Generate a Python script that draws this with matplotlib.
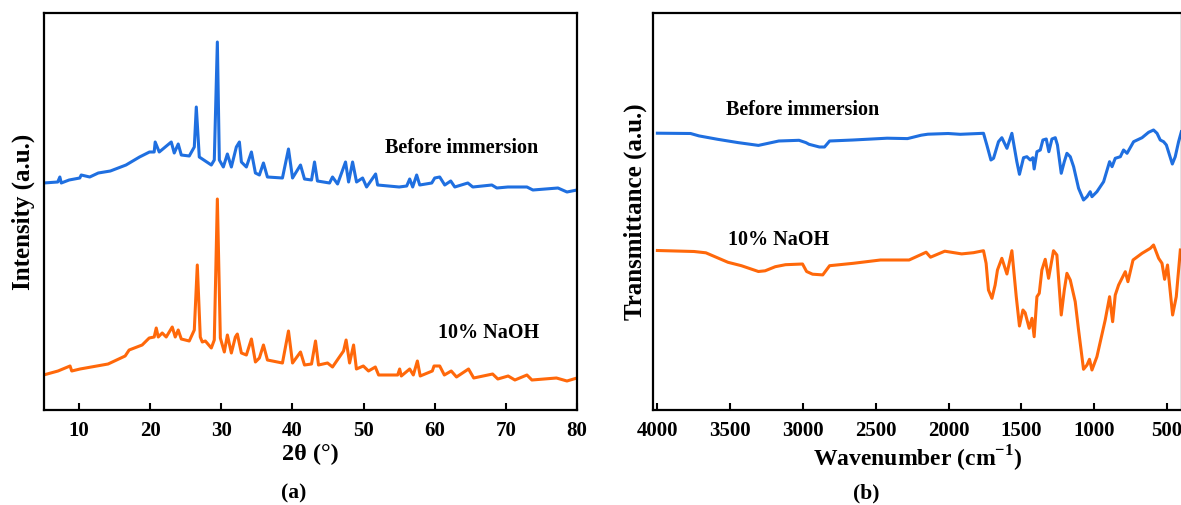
import numpy as np
import matplotlib
matplotlib.use('Agg')
import matplotlib.pyplot as plt

plt.rcParams['font.family'] = ['Liberation Serif', 'DejaVu Serif']
plt.rcParams['font.weight'] = 'bold'
plt.rcParams['mathtext.fontset'] = 'custom'
plt.rcParams['mathtext.rm'] = 'Liberation Serif:bold'
plt.rcParams['mathtext.bf'] = 'Liberation Serif:bold'

BLUE = '#1f6fe0'
ORANGE = '#ff680a'

# ---- XRD (a) ----
xrd_before_2t = [5.0, 7.0, 7.3, 7.5, 8.6, 10.1, 10.3, 11.5, 12.7, 14.4, 16.6, 18.5, 19.9,
                 20.56, 20.70, 21.27, 22.96, 23.38, 23.94, 24.37, 25.49, 26.20, 26.48, 26.90,
                 28.59, 29.01, 29.44, 29.72, 30.28, 30.85, 31.41, 32.11, 32.54, 32.82, 33.52,
                 34.23, 34.79, 35.35, 35.92, 36.48, 38.59, 39.44, 40.01, 41.13, 41.69, 42.68,
                 43.10, 43.51, 45.21, 45.63, 46.34, 47.46, 47.89, 48.45, 49.01, 49.86, 50.42,
                 51.69, 51.97, 55.0, 56.06, 56.48, 56.90, 57.46, 57.89, 59.58, 60.0, 60.70,
                 61.41, 62.25, 62.82, 64.65, 65.35, 68.03, 68.73, 70.28, 72.96, 73.80, 77.32,
                 78.59, 80.0]
xrd_before_int = [224, 225, 230, 224, 227, 229, 232, 230, 234, 236, 242, 250, 255,
                  255, 265, 255, 265, 254, 263, 252, 251, 260, 300, 250,
                  242, 247, 365, 247, 240, 253, 240, 260, 265, 245, 240,
                  255, 234, 232, 244, 230, 229, 258, 229, 242, 228, 227,
                  245, 226, 224, 230, 223, 245, 225, 245, 225, 229, 220,
                  233, 222, 220, 221, 228, 220, 232, 222, 224, 229, 230,
                  222, 226, 220, 224, 220, 222, 219, 220, 220, 217, 219,
                  215, 217]

xrd_naoh_2t = [5.0, 7.04, 8.73, 8.97, 10.14, 14.08, 16.48, 17.04, 18.87, 19.86, 20.56,
               20.85, 21.13, 21.69, 22.25, 23.10, 23.52, 23.94, 24.37, 25.49, 26.20, 26.62,
               27.04, 27.32, 27.75, 28.59, 29.01, 29.44, 29.86, 30.42, 30.85, 31.41, 31.97,
               32.25, 32.82, 33.52, 34.23, 34.79, 35.35, 35.92, 36.48, 38.59, 39.44, 40.01,
               41.13, 41.69, 42.68, 43.24, 43.66, 44.93, 45.63, 47.18, 47.54, 48.03, 48.59,
               48.99, 49.96, 50.69, 51.65, 52.11, 54.79, 55.07, 55.30, 56.48, 56.99, 57.56,
               57.96, 59.66, 59.90, 60.70, 61.35, 62.32, 63.06, 64.75, 65.48, 68.14, 68.87,
               70.32, 71.27, 72.96, 73.66, 77.11, 78.59, 80.0]
xrd_naoh_int = [32, 36, 41, 36, 38, 43, 51, 57, 62, 69, 70,
                79, 70, 74, 70, 80, 70, 77, 68, 66, 77, 142,
                70, 65, 66, 59, 67, 208, 69, 55, 72, 54, 70,
                73, 54, 52, 68, 45, 49, 62, 47, 44, 76, 44,
                55, 42, 43, 66, 42, 44, 40, 56, 67, 44, 62,
                38, 41, 36, 40, 32, 32, 38, 31, 38, 32, 46,
                31, 36, 41, 41, 32, 36, 30, 38, 29, 33, 28,
                31, 27, 32, 27, 29, 26, 29]

# ---- FTIR (b) ----
ftir_before_wn = [4000, 3772, 3714, 3586, 3446, 3306, 3166, 3027, 2980, 2958, 2887, 2852,
                  2817, 2656, 2422, 2282, 2188, 2142, 2003, 1920, 1760, 1737, 1709, 1691,
                  1657, 1634, 1599, 1565, 1531, 1513, 1485, 1462, 1439, 1421, 1412, 1393,
                  1370, 1352, 1329, 1311, 1290, 1267, 1252, 1226, 1205, 1187, 1164, 1141,
                  1107, 1073, 1049, 1027, 1015, 981, 935, 894, 877, 855, 820, 798, 774,
                  729, 671, 626, 592, 568, 546, 523, 504, 463, 443, 420, 401]
ftir_before_t = [276.8, 276.5, 274.1, 270.7, 267.4, 264.6, 269, 269.7, 267.4, 265.7, 263, 263,
                 269, 270, 271.8, 271.4, 274.8, 275.8, 276.5, 275.7, 276.7, 265, 250, 251.7,
                 268.3, 272.3, 261.7, 276.7, 248.3, 235.7, 252.3, 253.3, 250, 252.3, 241, 258.3,
                 260, 270, 271, 258.3, 271, 272.3, 265, 236.7, 248.3, 256.7, 253.3, 243.3,
                 221.7, 210, 213.3, 218.3, 213.3, 218.3, 228.3, 248.3, 243.3, 251.7, 253.3, 260, 256.7,
                 268.3, 272.3, 277.7, 280, 276.7, 270, 268.3, 265, 246, 253.3, 268.3, 278.3]

ftir_naoh_wn = [4000, 3748, 3667, 3515, 3423, 3306, 3260, 3190, 3120, 3003, 2975, 2934,
                2864, 2817, 2654, 2468, 2271, 2188, 2154, 2124, 2026, 1910, 1829, 1760,
                1742, 1726, 1702, 1680, 1664, 1634, 1599, 1565, 1535, 1513, 1489, 1474,
                1446, 1427, 1412, 1393, 1377, 1359, 1336, 1313, 1279, 1256, 1226, 1205,
                1187, 1164, 1130, 1107, 1073, 1049, 1032, 1015, 981, 924, 894, 873, 855,
                832, 786, 768, 733, 671, 614, 592, 557, 534, 516, 496, 461, 436, 408]
ftir_naoh_t = [159.5, 158.5, 157.2, 147.7, 144.3, 138.5, 139.2, 143.3, 145.3, 146, 138.5, 135.8,
               135.1, 144.3, 146.7, 150, 150, 155.5, 157.8, 152.8, 158.8, 156.1, 157.3, 159.3,
               146.7, 120, 111.7, 125, 140, 151.7, 136, 159.3, 113.3, 84, 100, 97.3,
               81.7, 91.7, 73.3, 113.3, 116.7, 140, 150.7, 131.7, 159.3, 155, 95, 120,
               136.7, 130, 108.3, 80, 40.7, 45, 50.7, 40, 53.3, 90, 113.3, 88.3, 115,
               125, 138.3, 128.3, 150, 156.7, 161.7, 165, 151.7, 146.7, 130.7, 145, 95, 113.3, 160]

W, H = 1181, 505
fig = plt.figure(figsize=(W / 100, H / 100), dpi=100)

def frac(x0, y0, x1, y1):
    return [x0 / W, 1 - y1 / H, (x1 - x0) / W, (y1 - y0) / H]

ax1 = fig.add_axes(frac(43.5, 13, 577, 410))
ax2 = fig.add_axes(frac(653, 13, 1181.5, 410))

for ax in (ax1, ax2):
    for s in ax.spines.values():
        s.set_linewidth(1.6)
    ax.tick_params(axis='x', direction='in', length=5, width=1.5, labelsize=15, pad=8)
    ax.tick_params(axis='y', left=False, labelleft=False)

ax1.plot(xrd_before_2t, xrd_before_int, color=BLUE, lw=2.2)
ax1.plot(xrd_naoh_2t, xrd_naoh_int, color=ORANGE, lw=2.2)
ax1.set_xlim(5, 80)
ax1.set_ylim(-3, 394)
ax1.set_xticks(np.arange(10, 81, 10))
ax1.set_xlabel('2θ (°)', fontsize=17.5, fontweight='bold', labelpad=2)
ax1.set_ylabel('Intensity (a.u.)', fontsize=18, fontweight='bold', labelpad=6)
ax1.text(0.783, 0.66, 'Before immersion', transform=ax1.transAxes, fontsize=14.5,
         fontweight='bold', ha='center', va='center')
ax1.text(0.835, 0.194, '10% NaOH', transform=ax1.transAxes, fontsize=14.5,
         fontweight='bold', ha='center', va='center')

ax2.plot(ftir_before_wn, ftir_before_t, color=BLUE, lw=2.2)
ax2.plot(ftir_naoh_wn, ftir_naoh_t, color=ORANGE, lw=2.2)
ax2.set_xlim(4030, 400)
ax2.set_ylim(0, 397)
ax2.set_xticks(np.arange(4000, 499, -500))
ax2.set_xlabel(r'Wavenumber (cm$^{-1}$)', fontsize=17, fontweight='bold', labelpad=2)
ax2.set_ylabel('Transmittance (a.u.)', fontsize=18, fontweight='bold', labelpad=4)
ax2.text(0.283, 0.756, 'Before immersion', transform=ax2.transAxes, fontsize=14.5,
         fontweight='bold', ha='center', va='center')
ax2.text(0.238, 0.428, '10% NaOH', transform=ax2.transAxes, fontsize=14.5,
         fontweight='bold', ha='center', va='center')

fig.text(294 / W, 1 - 493 / H, '(a)', fontsize=15.5, fontweight='bold', ha='center', va='center')
fig.text(866 / W, 1 - 493 / H, '(b)', fontsize=15.5, fontweight='bold', ha='center', va='center')

fig.savefig('out.png', dpi=100)
